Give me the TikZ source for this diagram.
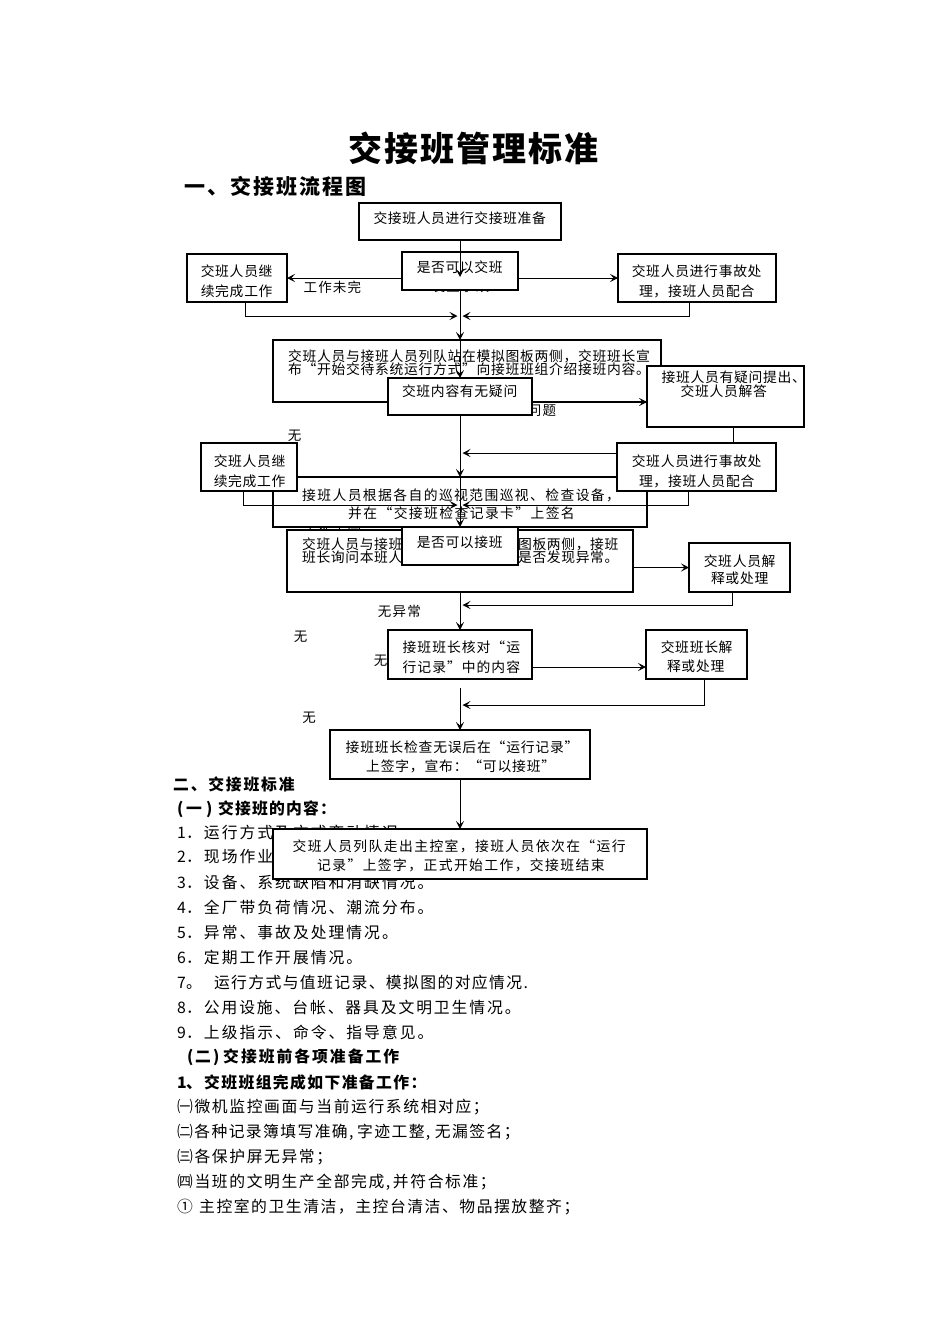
\documentclass[tikz,border=0pt]{standalone}
\usepackage{fontspec}
\setmainfont{Noto Sans CJK SC}
\usetikzlibrary{arrows.meta,calc}
\makeatletter
\newcommand\spr[2]{\begingroup\def\spr@w{#1}\spr@loop#2\spr@stop\endgroup}
\def\spr@stop{\spr@stop}
\def\spr@loop#1{\ifx\spr@stop#1\else\makebox[\spr@w pt][l]{#1}\expandafter\spr@loop\fi}
\makeatother
\newcommand\bx[5]{\node[box,minimum width={#4-#2},minimum height={#5-#3}] (#1) at ({(#2+#4)/2},{(#3+#5)/2}) {};}
\begin{document}
\begin{tikzpicture}[x=1pt,y=-1pt,
  box/.style={draw,line width=1.2pt,fill=white,inner sep=0pt,outer sep=0pt},
  tx/.style={inner sep=0pt,font=\fontsize{13.8}{15}\selectfont},
  lb/.style={inner sep=0pt,font=\fontsize{13.5}{15}\selectfont},
  li/.style={inner sep=0pt,anchor=west,font=\fontsize{15.8}{17}\selectfont},
  hd/.style={inner sep=0pt,anchor=west,font=\fontsize{15.8}{17}\selectfont\bfseries},
  arr/.style={line width=1pt,-{Stealth[length=8pt,width=8pt,inset=3.5pt]}},
  ln/.style={line width=1pt}]
\useasboundingbox (0,0) rectangle (950,1344);
\fill[white] (0,0) rectangle (950,1344);

% titles
\node[inner sep=0pt,anchor=west,font=\fontsize{34}{36}\selectfont\bfseries] (title) at (348,148) {\spr{36}{交接班管理标准}};
\node[inner sep=0pt,anchor=west,font=\fontsize{21}{23}\selectfont\bfseries] (h1) at (184,186) {\spr{23}{一、交接班流程图}};

% texts that lie under boxes
\node[li] (i1) at (177,832) {\makebox[9pt][l]{1}\spr{17.8}{．运行方式及方式变动情况}};
\node[li] (i2) at (177,857) {\makebox[9pt][l]{2}\spr{17.8}{．现场作业}};
\node[li] (i3) at (177,882) {\makebox[9pt][l]{3}\spr{17.8}{．设备、系统缺陷和消缺情况。}};
\node[lb] (l0) at (461,286) {\spr{14.7}{发生事故}};
\node[lb,anchor=west] (l2) at (513,410) {\spr{14.7}{有问题}};
\node[lb] (l4) at (333,531) {\spr{14.7}{工作未完}};
\node[lb] (l1) at (333,287) {\spr{14.7}{工作未完}};
\node[lb] (l3) at (294.5,436) {无};
\node[lb] (l5) at (400,611) {\spr{14.7}{无异常}};
\node[lb] (l6) at (300.5,637) {无};
\node[lb] (l7) at (380.5,661) {无};
\node[lb] (l8) at (309,718) {无};

% boxes with their texts
\bx{box1}{359}{203}{561}{240}
\node[tx] (t1) at (460,218) {\spr{14.4}{交接班人员进行交接班准备}};
\bx{left1}{187}{254}{287}{302}
\node[tx] (t2a) at (237,271) {\spr{14.5}{交班人员继}};
\node[tx] (t2b) at (237,291.5) {\spr{14.5}{续完成工作}};
\bx{right1}{618}{254}{776}{302}
\node[tx] (t3a) at (697,271) {\spr{14.5}{交班人员进行事故处}};
\node[tx] (t3b) at (697,291.5) {\spr{14.5}{理，接班人员配合}};
\bx{dec1}{402}{252}{518}{290}
\node[tx] (t4) at (460,267) {\spr{14.4}{是否可以交班}};
\bx{box3}{273}{340}{661}{402}
\node[tx,anchor=west] (t5a) at (288,356) {\spr{14.5}{交班人员与接班人员列队站在模拟图板两侧，交班班长宣}};
\node[tx,anchor=west] (t5b) at (288,369) {\spr{14.5}{布“开始交待系统运行方式”向接班班组介绍接班内容。}};
\bx{dec2}{388}{378}{532}{415}
\node[tx] (t6) at (460,391) {\spr{14.5}{交班内容有无疑问}};
\bx{right2}{647}{366}{804}{427}
\node[tx,anchor=west] (t7a) at (661.5,377) {\spr{14.5}{接班人员有疑问提出、}};
\node[tx,anchor=west] (t7b) at (680.5,391) {\spr{14.5}{交班人员解答}};
\bx{box4}{273}{477}{647}{527}
\node[tx,anchor=west] (t8a) at (302,495) {\spr{15.2}{接班人员根据各自的巡视范围巡视、检查设备，}};
\node[tx,anchor=west] (t8b) at (348,513) {\spr{15.2}{并在“交接班检查记录卡”上签名}};
\bx{left2}{201}{443}{297}{491}
\node[tx] (t9a) at (250,461) {\spr{14.5}{交班人员继}};
\node[tx] (t9b) at (250,481) {\spr{14.5}{续完成工作}};
\bx{right3}{617}{443}{776}{491}
\node[tx] (t10a) at (697,461) {\spr{14.5}{交班人员进行事故处}};
\node[tx] (t10b) at (697,481) {\spr{14.5}{理，接班人员配合}};
\bx{box5}{287}{530}{633}{592}
\node[tx,anchor=west] (t11a) at (302,544) {\spr{14.4}{交班人员与接班}};
\node[tx,anchor=west] (t11b) at (518,544) {\spr{14.4}{图板两侧，接班}};
\node[tx,anchor=west] (t11c) at (302,557) {\spr{14.4}{班长询问本班人}};
\node[tx,anchor=west] (t11d) at (518,557) {\spr{14.4}{是否发现异常。}};
\bx{dec3}{402}{527}{518}{565}
\node[tx] (t12) at (460,542) {\spr{14.4}{是否可以接班}};
\bx{right5}{689}{543}{790}{592}
\node[tx] (t13a) at (740,561) {\spr{14.5}{交班人员解}};
\node[tx] (t13b) at (740,578) {\spr{14.5}{释或处理}};
\bx{box6}{388}{630}{532}{679}
\node[tx,anchor=west] (t14a) at (402.5,647.5) {\spr{14.8}{接班班长核对“运}};
\node[tx,anchor=west] (t14b) at (402.5,667) {\spr{14.8}{行记录”中的内容}};
\bx{right6}{646}{630}{747}{679}
\node[tx] (t15a) at (697,647.5) {\spr{14.5}{交班班长解}};
\node[tx] (t15b) at (696,666) {\spr{14.5}{释或处理}};
\bx{box7}{330}{730}{590}{779}
\node[tx,anchor=west] (t16a) at (345.5,747.5) {\spr{14.6}{接班班长检查无误后在“运行记录”}};
\node[tx,anchor=west] (t16b) at (366,766.5) {\spr{14.6}{上签字，宣布：“可以接班”}};
\bx{box8}{273}{829}{647}{879}
\node[tx,anchor=west] (t17a) at (292.5,846.5) {\spr{15.2}{交班人员列队走出主控室，接班人员依次在“运行}};
\node[tx,anchor=west] (t17b) at (317,865) {\spr{15.2}{记录”上签字，正式开始工作，交接班结束}};

% connectors
\coordinate (m1) at (460,316);
\coordinate (s1) at (245.5,302);
\coordinate (s2) at (689,302);
\coordinate (s3) at (733,427);
\coordinate (m2) at (460,453);
\coordinate (m3) at (460,505);
\coordinate (s4) at (243.5,491);
\coordinate (s5) at (688,491);
\coordinate (s6) at (732.5,592);
\coordinate (m4) at (460,605);
\coordinate (y18) at (600,667);
\coordinate (s7) at (704,679);
\coordinate (m5) at (460,705);
\coordinate (c20) at (460,688);

\draw[arr] (box1.south) -- ($(dec1.center)+(0,6)$);
\draw[arr] (dec1.west |- left1.east) -- (left1.east);
\draw[arr] (dec1.east |- right1.west) -- (right1.west);
\draw[arr] (dec1.south) -- (dec1.south |- box3.north);
\draw[arr] (s1) |- ([xshift=-2.5pt]m1);
\draw[arr] (s2) |- ([xshift=2.5pt]m1);
\draw[arr] (dec1.south |- box3.north) -- (dec2.north);
\draw[arr] (dec2.east |- box3.south) -- (right2.west |- box3.south);
\draw[ln] (s3) -- (s3 |- right3.north);
\draw[arr] (right3.west |- m2) -- ([xshift=2.5pt]m2);
\draw[arr] (dec2.south) -- (box4.north);
\draw[arr] (box4.north) -- (dec3.north);
\draw[arr] (s4) |- ([xshift=-2.5pt]m3);
\draw[arr] (s5) |- ([xshift=2.5pt]m3);
\draw[arr] (box5.east |- right5.west) -- (right5.west);
\draw[arr] (s6) |- ([xshift=2.5pt]m4);
\draw[arr] (box5.south) -- (box6.north);
\draw[arr] (box6.east |- y18) -- (right6.west |- y18);
\draw[arr] (s7) |- ([xshift=2.5pt]m5);
\draw[arr] (c20) -- (box7.north);
\draw[arr] (box7.south) -- (box8.north);

% standards text
\node[hd] (h2) at (173,784) {\spr{17.6}{二、交接班标准}};
\node[hd] (h3) at (177,809) {\makebox[9pt][l]{(}\makebox[20pt][l]{一}\makebox[12pt][l]{)}\spr{17}{交接班的内容：}};
\node[li] (i4) at (177,907) {\makebox[9pt][l]{4}\spr{17.8}{．全厂带负荷情况、潮流分布。}};
\node[li] (i5) at (177,932) {\makebox[9pt][l]{5}\spr{17.8}{．异常、事故及处理情况。}};
\node[li] (i6) at (177,957) {\makebox[9pt][l]{6}\spr{17.8}{．定期工作开展情况。}};
\node[li] (i7) at (177,982) {\makebox[9pt][l]{7}\spr{17.8}{。}\hspace{10pt}\spr{17.2}{运行方式与值班记录、模拟图的对应情况}.};
\node[li] (i8) at (177,1007) {\makebox[9pt][l]{8}\spr{17.7}{．公用设施、台帐、器具及文明卫生情况。}};
\node[li] (i9) at (177,1032) {\makebox[9pt][l]{9}\spr{17.8}{．上级指示、命令、指导意见。}};
\node[hd] (h4) at (187,1057) {\makebox[8pt][l]{(}\makebox[18pt][l]{二}\makebox[10pt][l]{)}\spr{17.8}{交接班前各项准备工作}};
\node[hd] (h5) at (177,1082) {\makebox[9pt][l]{1}\spr{18}{、}\spr{17.2}{交班班组完成如下准备工作：}};
\node[li] (p1) at (177,1107) {\spr{17.4}{㈠微机监控画面与当前运行系统相对应；}};
\node[li] (p2) at (177,1132) {\spr{17.2}{㈡各种记录簿填写准确}\makebox[8pt][l]{,}\spr{17.2}{字迹工整}\makebox[9pt][l]{,}\spr{17.2}{无漏签名；}};
\node[li] (p3) at (177,1157) {\spr{17.4}{㈢各保护屏无异常；}};
\node[li] (p4) at (177,1182) {\spr{17.4}{㈣当班的文明生产全部完成}\makebox[7pt][l]{,}\spr{17.4}{并符合标准；}};
\node[li] (p5) at (177,1207) {\makebox[22pt][l]{①}\spr{17.35}{主控室的卫生清洁，主控台清洁、物品摆放整齐；}};
\end{tikzpicture}
\end{document}
